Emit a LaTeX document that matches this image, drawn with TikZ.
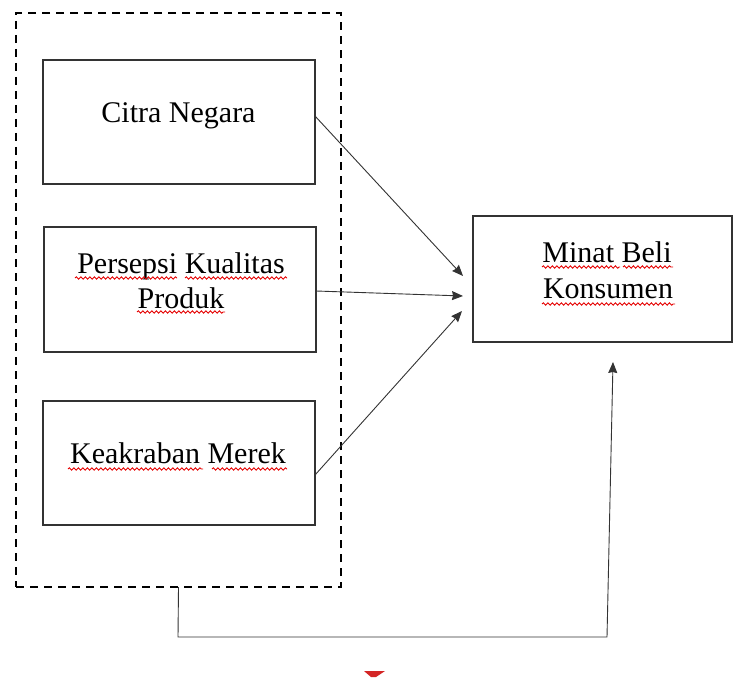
\documentclass[tikz,border=0pt]{standalone}
\usepackage{fontspec}
\setmainfont{Liberation Serif}
\usetikzlibrary{arrows.meta,calc,decorations.pathmorphing}
\begin{document}
\begin{tikzpicture}[x=1pt,y=-1pt,
  box/.style={draw=black!80,line width=1.2pt,inner sep=0pt,outer sep=0pt,anchor=north west},
  frame/.style={draw=black,line width=1.8pt,dash pattern=on 8pt off 6pt,inner sep=0pt,outer sep=0pt,anchor=north west},
  txt/.style={inner sep=0pt,anchor=base,font=\fontsize{30}{36}\selectfont},
  arr/.style={draw=black!80,line width=0.9pt,-{Stealth[length=11pt,width=9pt,inset=1pt]}},
  wave/.style={draw=red!90!black,line width=0.9pt,decorate,decoration={snake,amplitude=1.2pt,segment length=4.5pt}}]
\useasboundingbox (0,0) rectangle (733,679);
% dashed frame
\node[frame,minimum width=325pt,minimum height=574pt] (frame) at (16,13) {};
% boxes
\node[box,minimum width=272pt,minimum height=124pt] (b1) at (43,60) {};
\node[box,minimum width=272pt,minimum height=125pt] (b2) at (44,227) {};
\node[box,minimum width=272pt,minimum height=124pt] (b3) at (43,401) {};
\node[box,minimum width=259pt,minimum height=126pt] (minat) at (473,216) {};
% texts
\node[txt] (t1) at (178.5,123) {Citra Negara};
\node[txt] (t2a) at (181,273) {Persepsi Kualitas};
\node[txt] (t2b) at (181,308) {Produk};
\node[txt] (t3) at (178,463) {Keakraban Merek};
\node[txt] (t4a) at (607,262) {Minat Beli};
\node[txt] (t4b) at (608,298) {Konsumen};
% spell-check underlines
\draw[wave] (75,278) -- (177,278);
\draw[wave] (185,278) -- (287,278);
\draw[wave] (137,312) -- (225,312);
\draw[wave] (68,469) -- (203,469);
\draw[wave] (212,469) -- (287,469);
\draw[wave] (542,267) -- (620,267);
\draw[wave] (623,267) -- (673,267);
\draw[wave] (542,304) -- (675,304);
% connectors
\coordinate (e1) at ($(minat.west)+(-10,-3)$);
\coordinate (e2) at ($(minat.west)+(-10,17)$);
\coordinate (e3) at ($(minat.west)+(-11,32)$);
\draw[arr] ($(b1.east)+(0,-6)$) -- (e1);
\draw[arr] ($(b2.east)+(0,1.5)$) -- (e2);
\draw[arr] ($(b3.east)+(0,12)$) -- (e3);
\coordinate (c1) at ($(frame.south)+(-0.5,50)$);
\coordinate (c2) at (607,637);
\coordinate (e4) at ($(minat.south)+(10.5,20)$);
\draw[arr] (frame.south) -- (c1) -- (c2) -- (e4);
% small red mark
\fill[red!80!black,opacity=0.85] (364,671) -- (385,671) -- (376,677) -- (371,677) -- cycle;
\end{tikzpicture}
\end{document}
